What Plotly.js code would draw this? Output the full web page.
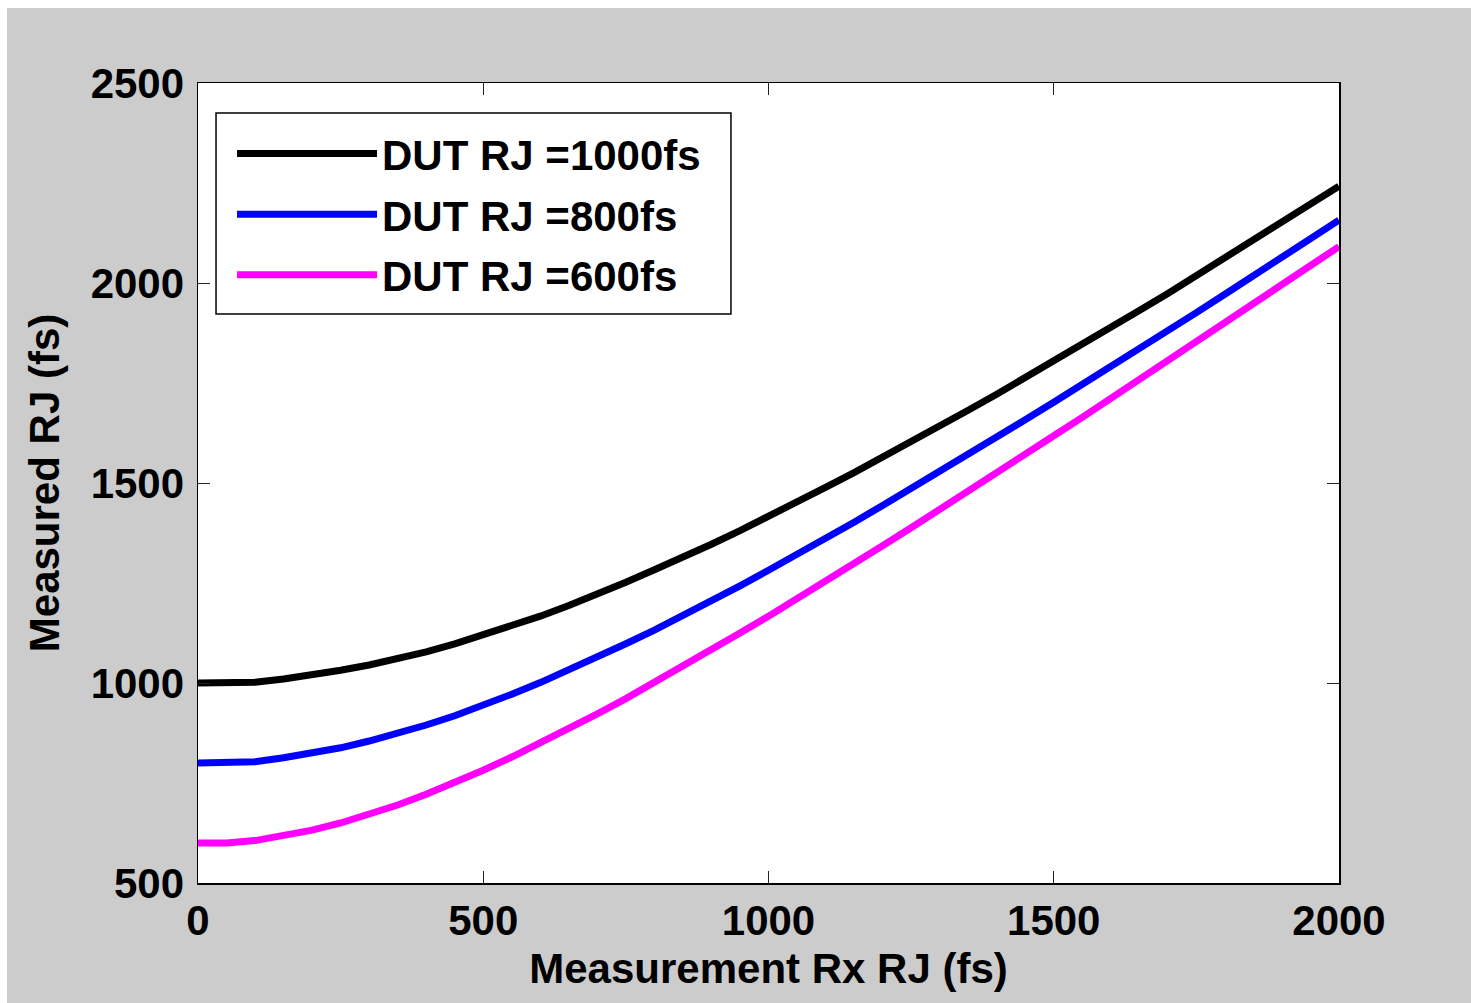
<!DOCTYPE html>
<html>
<head>
<meta charset="utf-8">
<script src="https://cdn.plot.ly/plotly-3.0.1.min.js"></script>
<style>
  html, body { margin: 0; padding: 0; background: #ffffff; }
  #chart { position: absolute; left: 7px; top: 8px; width: 1464px; height: 995px; }
</style>
</head>
<body>
<div id="chart"></div>
<script>
// Measurement Rx RJ (fs)
const rxRJ = [0, 50, 100, 150, 200, 250, 300, 350, 400, 450, 500, 550, 600, 650, 700, 750, 800, 850, 900, 950,
              1000, 1050, 1100, 1150, 1200, 1250, 1300, 1350, 1400, 1450, 1500, 1550, 1600, 1650, 1700, 1750, 1800, 1850, 1900, 1950, 2000];

// Measured RJ (fs)
const dut1000 = [1000, 1000, 1002, 1010, 1020, 1032, 1045, 1060, 1078, 1098, 1120, 1142, 1167, 1194, 1222, 1252, 1283, 1314, 1347, 1381,
                 1416, 1452, 1489, 1526, 1564, 1603, 1642, 1682, 1722, 1763, 1803, 1846, 1889, 1931, 1974, 2018, 2061, 2105, 2149, 2194, 2242];
const dut800  = [800, 800, 803, 813, 824, 838, 855, 874, 895, 918, 944, 972, 1001, 1032, 1064, 1098, 1132, 1168, 1205, 1243,
                 1282, 1321, 1361, 1402, 1444, 1486, 1528, 1571, 1614, 1658, 1702, 1746, 1791, 1836, 1881, 1926, 1972, 2018, 2064, 2110, 2157];
const dut600  = [600, 600, 606, 617, 632, 650, 671, 695, 722, 751, 782, 815, 850, 886, 923, 961, 1001, 1041, 1083, 1125,
                 1167, 1210, 1254, 1298, 1343, 1388, 1433, 1479, 1525, 1571, 1618, 1664, 1711, 1758, 1805, 1852, 1899, 1947, 1994, 2042, 2091];

const seriesNames = ['DUT RJ =1000fs', 'DUT RJ =800fs', 'DUT RJ =600fs'];
const seriesColors = ['#000000', '#0000ff', '#ff00ff'];
const seriesValues = [dut1000, dut800, dut600];

const xTicks = [0, 500, 1000, 1500, 2000];
const yTicks = [500, 1000, 1500, 2000, 2500];

const fontFam = '"Liberation Sans", Arial, Helvetica, sans-serif';

const traces = seriesValues.map((vals, i) => ({
  x: rxRJ,
  y: vals,
  type: 'scatter',
  mode: 'lines',
  name: seriesNames[i],
  legendgroup: 'g' + i,
  line: { color: seriesColors[i], width: 7, shape: 'linear' }
}));

const axisCommon = {
  showgrid: false,
  zeroline: false,
  showline: true,
  linecolor: '#000000',
  linewidth: 1.5,
  mirror: 'ticks',
  ticks: 'inside',
  ticklen: 12,
  tickwidth: 1,
  tickcolor: '#222222',
  tickfont: { family: fontFam, size: 42, color: '#000000', weight: 'bold' }
};

const layout = {
  width: 1464,
  height: 995,
  paper_bgcolor: '#cccccc',
  plot_bgcolor: '#ffffff',
  margin: { l: 191, r: 132, t: 75, b: 120 },
  showlegend: true,
  font: { family: fontFam, color: '#000000' },
  xaxis: Object.assign({}, axisCommon, {
    range: [0, 2000],
    tickvals: xTicks,
    ticktext: xTicks.map(String),
    ticklabelstandoff: 0,
    title: { text: 'Measurement Rx RJ (fs)', font: { family: fontFam, size: 42, color: '#000000', weight: 'bold' }, standoff: 10 }
  }),
  yaxis: Object.assign({}, axisCommon, {
    range: [500, 2500],
    tickvals: yTicks,
    ticktext: yTicks.map(String),
    ticklabelstandoff: 4,
    title: { text: 'Measured RJ (fs)', font: { family: fontFam, size: 42, color: '#000000', weight: 'bold' }, standoff: 18 }
  }),
  // legend frame
  shapes: [{
    type: 'rect', xref: 'paper', yref: 'paper', layer: 'above',
    x0: 0.0158, x1: 0.4671, y0: 0.7113, y1: 0.9625,
    fillcolor: '#ffffff', line: { color: '#000000', width: 1.5 }
  }],
  legend: {
    x: 0.0158,
    y: 0.954,
    xanchor: 'left',
    yanchor: 'top',
    bgcolor: 'rgba(0,0,0,0)',
    borderwidth: 0,
    indentation: 16,
    itemwidth: 140,
    font: { family: fontFam, size: 42, color: '#000000', weight: 'bold' },
    tracegroupgap: 3
  }
};

Plotly.newPlot('chart', traces, layout, { displayModeBar: false, staticPlot: true });
</script>
</body>
</html>
